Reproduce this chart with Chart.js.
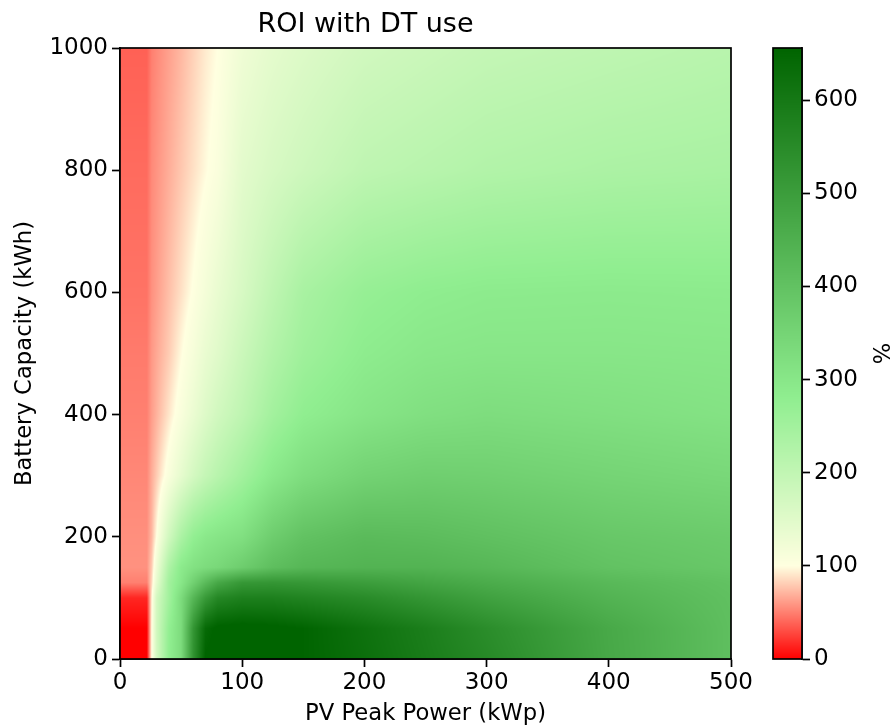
<!DOCTYPE html>
<html>
<head>
<meta charset="utf-8">
<title>ROI with DT use</title>
<script src="https://cdn.jsdelivr.net/npm/chart.js@4.4.1/dist/chart.umd.min.js"></script>
<style>
  body { margin: 0; background: #fff; }
  #wrap { position: relative; width: 890px; height: 728px; }
  #main { position: absolute; left: 0; top: 0; }
  #cbar { position: absolute; left: 760px; top: 0; }
</style>
</head>
<body>
<div id="wrap">
  <canvas id="main" width="890" height="728"></canvas>
  <canvas id="cbar" width="130" height="728"></canvas>
</div>
<script>
// grid (kWp columns, kWh rows, ROI in %)
const pvPower = [0, 22, 26, 30, 40, 50, 60, 70, 80, 100, 125, 150, 200, 250, 300, 400, 500];
const batteryCap = [0, 50, 100, 125, 150, 200, 300, 400, 500, 600, 800, 1000];
const roi = [
    [0, 0, 100, 170, 280, 330, 530, 660, 670, 670, 665, 655, 625, 590, 555, 470, 408],
    [0, 0, 100, 175, 275, 330, 520, 640, 665, 670, 665, 655, 620, 585, 545, 468, 408],
    [15, 15, 95, 170, 250, 330, 430, 510, 560, 580, 580, 570, 550, 520, 490, 440, 405],
    [50, 50, 85, 140, 250, 300, 360, 420, 470, 515, 520, 515, 500, 480, 460, 425, 400],
    [57, 57, 80, 125, 230, 290, 315, 330, 340, 370, 410, 430, 440, 440, 430, 400, 385],
    [56, 56, 72, 100, 175, 235, 275, 295, 305, 320, 370, 400, 420, 415, 405, 385, 375],
    [53, 53, 68, 80, 110, 140, 170, 195, 215, 250, 295, 325, 355, 365, 362, 350, 340],
    [50, 50, 62, 70, 90, 110, 132, 155, 175, 205, 250, 280, 305, 320, 327, 320, 312],
    [48, 48, 60, 66, 80, 98, 115, 135, 150, 185, 225, 255, 285, 298, 302, 302, 300],
    [45, 45, 57, 62, 75, 88, 102, 118, 135, 165, 205, 240, 270, 282, 288, 290, 288],
    [42, 42, 54, 58, 68, 78, 88, 98, 108, 145, 165, 180, 205, 215, 225, 235, 240],
    [38, 38, 50, 54, 63, 72, 82, 92, 100, 125, 143, 155, 175, 185, 195, 205, 215]
];
const xTickVals = [0, 100, 200, 300, 400, 500];
const yTickVals = [0, 200, 400, 600, 800, 1000];
const cbarTickVals = [0, 100, 200, 300, 400, 500, 600];
const roiMin = 0;
const roiMax = 656;

// colour map: red -> lightyellow -> lightgreen -> darkgreen
const cmapStops = [0, 100, 280, 656];
const cmapColors = [[255, 0, 0], [255, 255, 224], [144, 238, 144], [0, 100, 0]];

Chart.defaults.font.family = "'DejaVu Sans', sans-serif";
Chart.defaults.color = "#000";

function roiColor(v) {
    if (v <= cmapStops[0]) return cmapColors[0];
    for (let i = 1; i < cmapStops.length; i++) {
        if (v <= cmapStops[i]) {
            const t = (v - cmapStops[i - 1]) / (cmapStops[i] - cmapStops[i - 1]);
            const a = cmapColors[i - 1], b = cmapColors[i];
            return [a[0] + (b[0] - a[0]) * t, a[1] + (b[1] - a[1]) * t, a[2] + (b[2] - a[2]) * t];
        }
    }
    return cmapColors[cmapColors.length - 1];
}

function bracket(arr, v) {
    let i = 0;
    while (i < arr.length - 2 && v > arr[i + 1]) i++;
    const t = (v - arr[i]) / (arr[i + 1] - arr[i]);
    return [i, Math.min(1, Math.max(0, t))];
}

const heatmapPlugin = {
    id: "heatmap",
    beforeDatasetsDraw(chart) {
        const { ctx, chartArea: a, scales: { x, y } } = chart;
        const w = Math.round(a.right - a.left), h = Math.round(a.bottom - a.top);
        const off = document.createElement("canvas");
        off.width = w; off.height = h;
        const octx = off.getContext("2d");
        const img = octx.createImageData(w, h);
        const cols = [];
        for (let i = 0; i < w; i++) cols.push(bracket(pvPower, x.getValueForPixel(a.left + i + 0.5)));
        for (let j = 0; j < h; j++) {
            const [r, ty] = bracket(batteryCap, y.getValueForPixel(a.top + j + 0.5));
            for (let i = 0; i < w; i++) {
                const [c, tx] = cols[i];
                const v = roi[r][c] * (1 - tx) * (1 - ty) + roi[r][c + 1] * tx * (1 - ty)
                        + roi[r + 1][c] * (1 - tx) * ty + roi[r + 1][c + 1] * tx * ty;
                const col = roiColor(v);
                const k = (j * w + i) * 4;
                img.data[k] = col[0];
                img.data[k + 1] = col[1];
                img.data[k + 2] = col[2];
                img.data[k + 3] = 255;
            }
        }
        octx.putImageData(img, 0, 0);
        ctx.drawImage(off, a.left, a.top, w, h);
    },
    afterDraw(chart) {
        const { ctx, chartArea: a } = chart;
        ctx.save();
        ctx.strokeStyle = "#000";
        ctx.lineWidth = 1.7;
        ctx.strokeRect(a.left, a.top, a.right - a.left, a.bottom - a.top);
        ctx.restore();
    }
};

const colorbarPlugin = {
    id: "colorbar",
    beforeDatasetsDraw(chart) {
        const { ctx, chartArea: a, scales: { y } } = chart;
        for (let j = Math.floor(a.top); j < Math.ceil(a.bottom); j++) {
            const col = roiColor(y.getValueForPixel(j + 0.5));
            ctx.fillStyle = `rgb(${col[0]},${col[1]},${col[2]})`;
            ctx.fillRect(a.left, j, a.right - a.left, 1);
        }
    },
    afterDraw(chart) {
        const { ctx, chartArea: a } = chart;
        ctx.save();
        ctx.strokeStyle = "#000";
        ctx.lineWidth = 1.7;
        ctx.strokeRect(a.left, a.top, a.right - a.left, a.bottom - a.top);
        ctx.restore();
    }
};

const axisGrid = { drawOnChartArea: false, tickLength: 8, tickWidth: 1.7, tickColor: "#000" };
const axisBorder = { display: true, color: "#000", width: 1.7 };
const tickFont = { size: 23 };
const plainLabel = v => String(v);

new Chart(document.getElementById("main"), {
    type: "scatter",
    data: { datasets: [] },
    options: {
        responsive: false,
        animation: false,
        layout: { padding: { left: 0, right: 159, top: 0, bottom: 0 } },
        plugins: {
            legend: { display: false },
            tooltip: { enabled: false },
            title: {
                display: true, text: "ROI with DT use", color: "#000",
                font: { size: 27, weight: "normal" }, padding: { top: 9, bottom: 6.6 }
            }
        },
        scales: {
            x: {
                type: "linear", min: 0, max: 500,
                afterBuildTicks: s => { s.ticks = xTickVals.map(v => ({ value: v })); },
                afterFit: s => { s.height = 69; },
                ticks: { font: tickFont, padding: 2, maxRotation: 0, autoSkip: false, callback: plainLabel },
                grid: axisGrid, border: axisBorder,
                title: { display: true, text: "PV Peak Power (kWp)", font: { size: 22.7 }, padding: { top: 0, bottom: 0 } }
            },
            y: {
                type: "linear", min: 0, max: 1000,
                afterBuildTicks: s => { s.ticks = yTickVals.map(v => ({ value: v })); },
                afterFit: s => { s.width = 120; },
                ticks: { font: tickFont, padding: 4, autoSkip: false, callback: plainLabel },
                grid: axisGrid, border: axisBorder,
                title: { display: true, text: "Battery Capacity (kWh)", font: { size: 22.7 }, padding: { top: 11, bottom: 0 } }
            }
        }
    },
    plugins: [heatmapPlugin]
});

new Chart(document.getElementById("cbar"), {
    type: "scatter",
    data: { datasets: [] },
    options: {
        responsive: false,
        animation: false,
        layout: { padding: { left: 13, right: 0, top: 48, bottom: 69 } },
        plugins: { legend: { display: false }, tooltip: { enabled: false } },
        scales: {
            x: { display: false, min: 0, max: 1 },
            y: {
                type: "linear", position: "right", min: roiMin, max: roiMax,
                afterBuildTicks: s => { s.ticks = cbarTickVals.map(v => ({ value: v })); },
                afterFit: s => { s.width = 88; },
                ticks: { font: tickFont, padding: 4, autoSkip: false, callback: plainLabel },
                grid: axisGrid, border: axisBorder,
                title: { display: true, text: "%", font: { size: 22.7, lineHeight: 1 }, padding: 0 }
            }
        }
    },
    plugins: [colorbarPlugin]
});
</script>
</body>
</html>
